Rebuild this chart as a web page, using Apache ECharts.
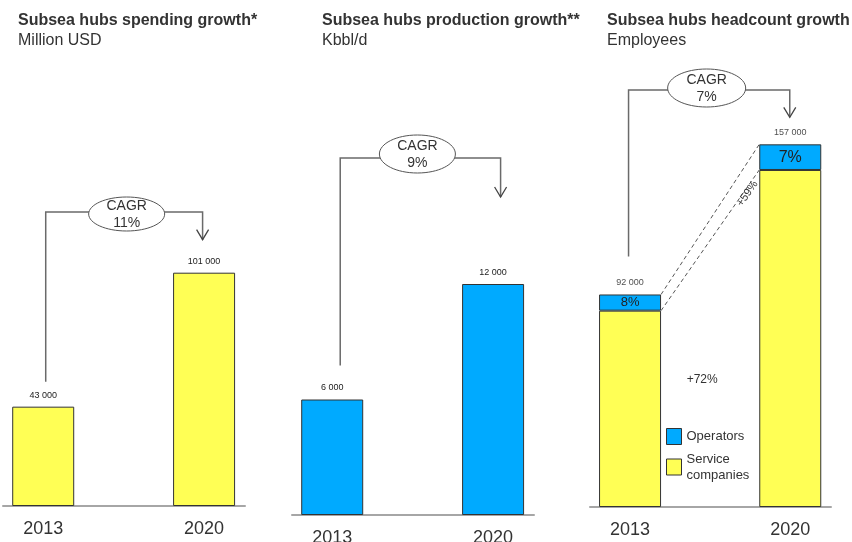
<!DOCTYPE html>
<html>
<head>
<meta charset="utf-8">
<script src="https://cdn.jsdelivr.net/npm/echarts@6/dist/echarts.min.js"></script>
<style>
  html, body { margin: 0; padding: 0; background: #fff; }
  #chart { width: 852px; height: 542px; }
</style>
</head>
<body>
<div id="chart"></div>
<script>
// ---- data ----
const years = [2013, 2020];
const spending = [43000, 101000];          // Million USD
const production = [6000, 12000];          // Kbbl/d
const operators = [7000, 11100];           // employees
const serviceCompanies = [85000, 145900];  // employees
const cagrLabels = ['11%', '9%', '7%'];
const titles = ['Subsea hubs spending growth*', 'Subsea hubs production growth**', 'Subsea hubs headcount growth'];
const units = ['Million USD', 'Kbbl/d', 'Employees'];

const headcount = years.map((y, i) => operators[i] + serviceCompanies[i]);

// ---- styling ----
const FONT = '"Liberation Sans", Arial, Helvetica, sans-serif';
const YELLOW = '#FFFF55';
const BLUE = '#00AAFF';
const INK = '#333';
const BAR_W = 62;

const fmt = v => String(v).replace(/\B(?=(\d{3})+(?!\d))/g, ' ');
const growth = (a, b) => '+' + Math.round((b / a - 1) * 100) + '%';

const gridBoxes = [
  { left: 3, width: 242, top: 44, bottom: 36, outerBoundsMode: 'none' },
  { left: 292, width: 242, top: 130, bottom: 27, outerBoundsMode: 'none' },
  { left: 590, width: 241, top: 45, bottom: 35, outerBoundsMode: 'none' }
];
const yMax = [200000, 20000, 200000];
const titleLeft = [18, 322, 607];

// bracket geometry (pixels) relative to the bar tops
const bracketLayout = [
  { dxL: 2.5, gapL: 25, dxR: -1.5, gapR: 33, level: 212, cx: 2.5, cy: 214, rx: 38, ry: 17 },
  { dxL: 8, gapL: 34, dxR: 7.5, gapR: 87, level: 158, cx: -3, cy: 154, rx: 38, ry: 19 },
  { dxL: -1.5, gapL: 38, dxR: -0.5, gapR: 27, level: 90, cx: -2.5, cy: 88, rx: 39, ry: 19 }
];

const valueLabel = {
  show: true, position: 'top', distance: 7,
  fontSize: 9, color: '#222', fontFamily: FONT,
  formatter: p => fmt(p.value[1])
};
const barBorder = { borderColor: '#333', borderWidth: 1 };

function cagrSeries(idx, values, extra) {
  const lay = bracketLayout[idx];
  return {
    type: 'custom', xAxisIndex: idx, yAxisIndex: idx, silent: true, z: 10,
    dimensions: ['x0', 'y0', 'x1', 'y1'],
    encode: { x: [0, 2], y: [1, 3] },
    data: [[years[0], values[0], years[1], values[1]]],
    renderItem: (params, api) => {
      const a = api.coord([api.value(0), api.value(1)]);
      const b = api.coord([api.value(2), api.value(3)]);
      const xL = a[0] + lay.dxL, yL = a[1] - lay.gapL;
      const xR = b[0] + lay.dxR, yR = b[1] - lay.gapR;
      const cx = (xL + xR) / 2 + lay.cx;
      const children = [
        { type: 'polyline', shape: { points: [[xL, yL], [xL, lay.level], [xR, lay.level], [xR, yR]] },
          style: { fill: null, stroke: '#6a6a6a', lineWidth: 1.5 } },
        { type: 'polyline', shape: { points: [[xR - 6, yR - 10], [xR, yR], [xR + 6, yR - 10]] },
          style: { fill: null, stroke: '#444', lineWidth: 1.3 } },
        { type: 'ellipse', shape: { cx: cx, cy: lay.cy, rx: lay.rx, ry: lay.ry },
          style: { fill: '#fff', stroke: '#555', lineWidth: 1 } },
        { type: 'text', x: cx, y: lay.cy + 1,
          style: { text: 'CAGR\n' + cagrLabels[idx], fill: INK, fontSize: 14, fontFamily: FONT,
                   lineHeight: 17, align: 'center', verticalAlign: 'middle' } }
      ];
      if (extra) extra(api, children);
      return { type: 'group', children: children };
    }
  };
}

// dashed connectors between the headcount bars plus growth notes
function headcountNotes(api, children) {
  const half = BAR_W / 2;
  const t0 = api.coord([years[0], headcount[0]]);
  const t1 = api.coord([years[1], headcount[1]]);
  const s0 = api.coord([years[0], serviceCompanies[0]]);
  const s1 = api.coord([years[1], serviceCompanies[1]]);
  const dash = { fill: null, stroke: '#555', lineWidth: 1, lineDash: [4, 3] };
  children.push(
    { type: 'line', shape: { x1: t0[0] + half, y1: t0[1], x2: t1[0] - half, y2: t1[1] }, style: dash },
    { type: 'line', shape: { x1: s0[0] + half, y1: s0[1], x2: s1[0] - half, y2: s1[1] }, style: dash }
  );
  const ax = s0[0] + half, ay = s0[1], bx = s1[0] - half, by = s1[1];
  const t = 0.86;
  children.push({
    type: 'text', x: ax + (bx - ax) * t + 2, y: ay + (by - ay) * t + 4,
    rotation: Math.atan2(ay - by, bx - ax),
    style: { text: growth(operators[0], operators[1]), fill: INK, fontSize: 11, fontFamily: FONT,
             align: 'center', verticalAlign: 'middle' }
  });
  children.push({
    type: 'text', x: (s0[0] + s1[0]) / 2 - 8, y: 380,
    style: { text: growth(serviceCompanies[0], serviceCompanies[1]), fill: INK, fontSize: 12,
             fontFamily: FONT, align: 'center', verticalAlign: 'middle' }
  });
}

// stacked headcount bars: the value column comes first so it is the stacked dimension
const stackedEncode = { x: 1, y: 0 };

const option = {
  backgroundColor: '#fff',
  animation: false,
  title: titles.map((t, i) => ({
    text: t, subtext: units[i], left: titleLeft[i], top: 13, padding: 0, itemGap: 4,
    textStyle: { fontSize: 16, fontWeight: 'bold', color: INK, fontFamily: FONT },
    subtextStyle: { fontSize: 16, color: INK, fontFamily: FONT }
  })),
  legend: {
    data: ['Operators', 'Service companies'],
    orient: 'vertical', left: 666, top: 428, padding: 0,
    itemWidth: 15, itemHeight: 16, itemGap: 6, icon: 'rect', selectedMode: false,
    formatter: n => n.replace(' ', '\n'),
    textStyle: { fontSize: 13, lineHeight: 16, color: INK, fontFamily: FONT },
    itemStyle: { borderColor: '#333', borderWidth: 1 }
  },
  grid: gridBoxes,
  xAxis: gridBoxes.map((g, i) => ({
    type: 'value', gridIndex: i, min: 2011.25, max: 2021.78,
    splitLine: { show: false }, axisTick: { show: false },
    axisLine: { show: true, lineStyle: { color: '#a6a6a6', width: 2 } },
    axisLabel: { customValues: years, fontSize: 18, color: INK, fontFamily: FONT, margin: 14,
                 formatter: v => String(v) }
  })),
  yAxis: gridBoxes.map((g, i) => ({ type: 'value', gridIndex: i, min: 0, max: yMax[i], show: false })),
  series: [
    { name: 'Spending', type: 'bar', xAxisIndex: 0, yAxisIndex: 0, barWidth: BAR_W,
      data: years.map((y, i) => [y, spending[i]]),
      itemStyle: Object.assign({ color: YELLOW }, barBorder), label: valueLabel },
    { name: 'Production', type: 'bar', xAxisIndex: 1, yAxisIndex: 1, barWidth: BAR_W,
      data: years.map((y, i) => [y, production[i]]),
      itemStyle: Object.assign({ color: BLUE }, barBorder), label: valueLabel },
    { name: 'Service companies', type: 'bar', xAxisIndex: 2, yAxisIndex: 2, barWidth: BAR_W, stack: 'hc',
      encode: stackedEncode,
      data: years.map((y, i) => [serviceCompanies[i], y]),
      itemStyle: Object.assign({ color: YELLOW }, barBorder) },
    { name: 'Operators', type: 'bar', xAxisIndex: 2, yAxisIndex: 2, barWidth: BAR_W, stack: 'hc',
      encode: stackedEncode,
      data: years.map((y, i) => ({ value: [operators[i], y], label: { fontSize: i === 0 ? 13 : 16 } })),
      itemStyle: Object.assign({ color: BLUE }, barBorder),
      label: { show: true, position: 'inside', color: '#222', fontFamily: FONT,
               formatter: p => Math.round(operators[p.dataIndex] / headcount[p.dataIndex] * 100) + '%' } },
    { name: 'Total', type: 'scatter', xAxisIndex: 2, yAxisIndex: 2, symbolSize: 1, silent: true,
      data: years.map((y, i) => [y, headcount[i]]),
      itemStyle: { color: 'rgba(0,0,0,0)' }, label: valueLabel },
    cagrSeries(0, spending),
    cagrSeries(1, production),
    cagrSeries(2, headcount, headcountNotes)
  ]
};

const chart = echarts.init(document.getElementById('chart'), null, { renderer: 'canvas' });
chart.setOption(option);
</script>
</body>
</html>
